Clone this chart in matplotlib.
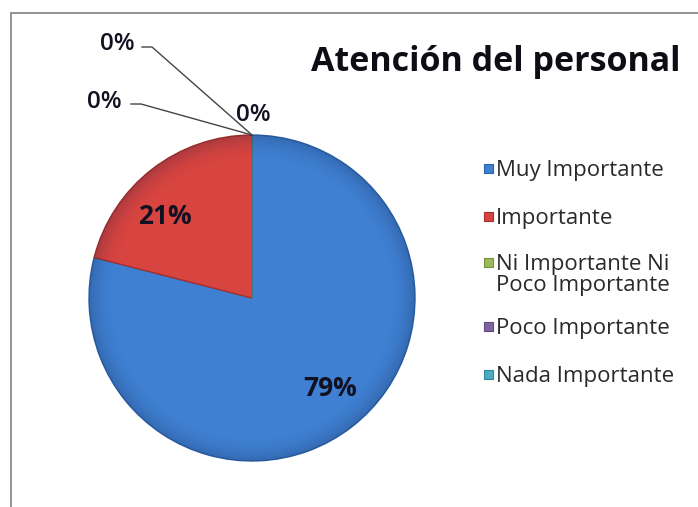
import matplotlib
matplotlib.use("Agg")
import matplotlib.pyplot as plt
import numpy as np
from matplotlib.patches import Rectangle, Circle

# Survey results: "Atención del personal"
categories = ["Muy Importante", "Importante", "Ni Importante Ni\nPoco Importante",
              "Poco Importante", "Nada Importante"]
values = [79, 21, 0, 0, 0]
pct_labels = ["79%", "21%", "0%", "0%", "0%"]
colors = ["#3f80d2", "#d8443f", "#9bbb59", "#8064a2", "#4bacc6"]
edge_colors = ["#2d62a8", "#a8302c", "#76923c", "#5f4a7b", "#31859c"]
title = "Atención del personal"

W, H = 698, 507
fig = plt.figure(figsize=(W / 100, H / 100), dpi=100)
fig.patch.set_facecolor("white")

# chart-area frame (left and top edges fall inside the image)
frame = Rectangle((11 / W, -0.05), 1.2, (H - 13) / H + 0.05, transform=fig.transFigure,
                  fill=False, edgecolor="#8a8a8a", linewidth=1.3)
fig.add_artist(frame)

# pie axes: center (252, 298) px, radius 163 px
cx, cy, r = 252, 298, 163
ax = fig.add_axes([(cx - r) / W, (H - cy - r) / H, 2 * r / W, 2 * r / H])
ax.axis("off")

wedges, _ = ax.pie(values, colors=colors, startangle=90, counterclock=False,
                   radius=1.0, wedgeprops=dict(linewidth=1.0))
for w, ec in zip(wedges, edge_colors):
    w.set_edgecolor(ec)
ax.set_xlim(-1, 1)
ax.set_ylim(-1, 1)
ax.set_aspect("equal")

# soft darkening towards the rim of the pie
g = np.linspace(-1, 1, 400)
xx, yy = np.meshgrid(g, g)
rr = np.hypot(xx, yy)
shade = np.zeros((400, 400, 4))
shade[..., 0:3] = [0.05, 0.10, 0.25]
shade[..., 3] = 0.22 * np.clip((rr - 0.84) / 0.16, 0, 1) ** 2
im = ax.imshow(shade, extent=(-1, 1, -1, 1), origin="lower", zorder=3)
clip = Circle((0, 0), 1.0, transform=ax.transData)
im.set_clip_path(clip)

def px(x, y):
    return ((x - cx) / r, (cy - y) / r)

lab_font = dict(family=["Open Sans", "DejaVu Sans"], color="#111122", zorder=5)

# inside labels
ax.text(*px(330, 388), pct_labels[0], ha="center", va="center", fontsize=19,
        fontweight="bold", **lab_font)
ax.text(*px(165, 216), pct_labels[1], ha="center", va="center", fontsize=19,
        fontweight="bold", **lab_font)

# zero-value labels with leader lines
ax.text(*px(253, 115), pct_labels[2], ha="center", va="center", fontsize=17.5,
        fontweight="semibold", clip_on=False, **lab_font)
ax.text(*px(104, 102), pct_labels[3], ha="center", va="center", fontsize=17.5,
        fontweight="semibold", clip_on=False, **lab_font)
ax.text(*px(117, 44), pct_labels[4], ha="center", va="center", fontsize=17.5,
        fontweight="semibold", clip_on=False, **lab_font)

for pts in ([(131, 104), (141, 104), (252, 135)],
            [(142, 47), (152, 47), (252, 135)]):
    xs, ys = zip(*[px(*p) for p in pts])
    ax.plot(xs, ys, color="#444444", linewidth=1.0, clip_on=False)

# title
fig.text(496 / W, 1 - 62 / H, title, ha="center", va="center", fontsize=24.5,
         fontweight="bold", family=["Open Sans", "DejaVu Sans"], color="#0d0d14")

# legend
leg_rows = [169, 217, 263, 327, 375]
for cat, col, ec, yrow in zip(categories, colors, edge_colors, leg_rows):
    fig.add_artist(Rectangle((484 / W, 1 - (yrow + 4) / H), 9 / W, 9 / H,
                             transform=fig.transFigure, facecolor=col,
                             edgecolor=ec, linewidth=0.8))
    fig.text(496 / W, 1 - yrow / H + 9 / H, cat, ha="left", va="top",
             fontsize=16, family=["Open Sans", "DejaVu Sans"], color="#2a2a2a",
             linespacing=1.0)

fig.savefig("out.png", dpi=100, facecolor="white")
